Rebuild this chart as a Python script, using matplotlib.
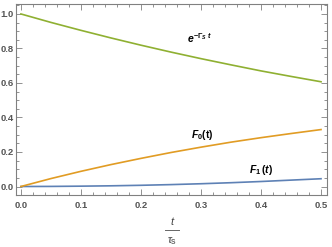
import numpy as np
import matplotlib
matplotlib.use("Agg")
import matplotlib.pyplot as plt
from matplotlib.ticker import MultipleLocator

plt.rcParams['font.family'] = ['Liberation Sans', 'DejaVu Sans']
plt.rcParams['mathtext.fontset'] = 'custom'
plt.rcParams['mathtext.rm'] = 'Liberation Sans:bold'
plt.rcParams['mathtext.it'] = 'Liberation Sans:italic:bold'
plt.rcParams['mathtext.bf'] = 'Liberation Sans:bold'

# values
t = [0.0, 0.05, 0.1, 0.15, 0.2, 0.25, 0.3, 0.35, 0.4, 0.45, 0.5]
decay = [1.0, 0.951, 0.905, 0.861, 0.819, 0.779, 0.741, 0.705, 0.670, 0.638, 0.607]
f0 = [0.0, 0.046, 0.088, 0.127, 0.163, 0.197, 0.228, 0.257, 0.283, 0.307, 0.330]
f1 = [0.0, 0.0005, 0.002, 0.004, 0.007, 0.011, 0.016, 0.022, 0.029, 0.037, 0.045]

blue = "#5E81B5"
orange = "#E19C24"
green = "#8FB032"
gray = "#808080"

fig = plt.figure(figsize=(3.32, 2.47), dpi=100)
ax = fig.add_axes([0.048, 0.21, 0.937, 0.774])

ax.plot(t, f1, color=blue, lw=1.2)
ax.plot(t, f0, color=orange, lw=1.2)
ax.plot(t, decay, color=green, lw=1.2)

ax.set_xlim(-0.0083, 0.51)
ax.set_ylim(-0.05, 1.058)

ax.xaxis.set_major_locator(MultipleLocator(0.1))
ax.xaxis.set_minor_locator(MultipleLocator(0.02))
ax.yaxis.set_major_locator(MultipleLocator(0.2))
ax.yaxis.set_minor_locator(MultipleLocator(0.05))
ax.tick_params(which="both", direction="in", top=True, right=True, color=gray,
               width=0.6, labelsize=6.8, labelcolor="#555555")
ax.tick_params(axis="y", pad=1.5)
ax.tick_params(axis="x", pad=4)
ax.tick_params(which="major", length=4)
ax.tick_params(which="minor", length=2)
for lab in ax.get_xticklabels() + ax.get_yticklabels():
    lab.set_fontweight("bold")
for s in ax.spines.values():
    s.set_color(gray)
    s.set_linewidth(0.8)

# curve labels
ax.text(0.298, 0.86, r"$e^{-\Gamma_S\ t}$", fontsize=7.5, ha="center", va="center")
ax.text(0.302, 0.30, r"$F_0\mathrm{(t)}$", fontsize=7.5, ha="center", va="center")
ax.text(0.40, 0.098, r"$F_1\,(t)$", fontsize=7.5, ha="center", va="center")

# x label as a fraction
fig.text(172 / 332, 1 - 222 / 247, "t", style="italic", fontsize=8, ha="center", va="center", color="#444444")
fig.lines.append(plt.Line2D([165 / 332, 179 / 332], [1 - 230 / 247] * 2, color="#666666", lw=0.7,
                            transform=fig.transFigure))
fig.text(172 / 332, 1 - 241 / 247, r"$\tau_\mathrm{S}$", fontsize=7, ha="center", va="center", color="#666666")

fig.savefig("out.png", dpi=100)
